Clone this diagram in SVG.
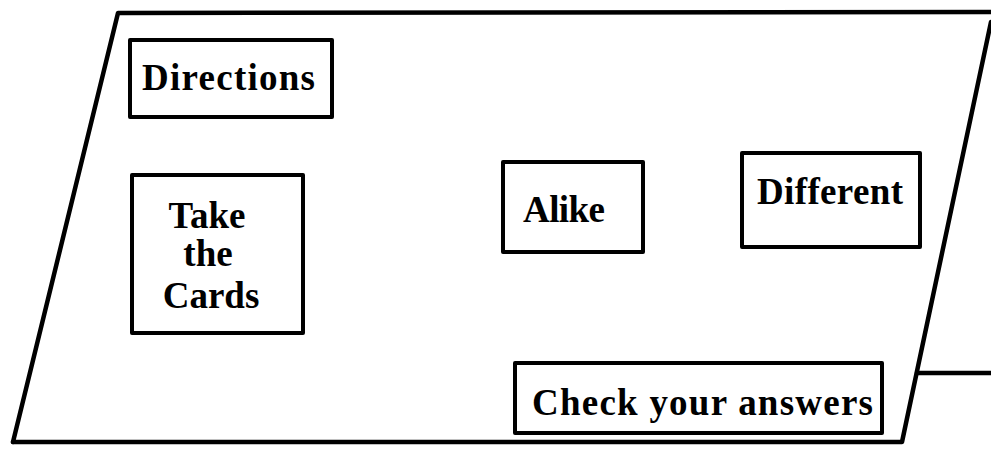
<svg xmlns="http://www.w3.org/2000/svg" width="991" height="449" viewBox="0 0 991 449">
<style>
.frame{fill:none;stroke:#000;stroke-width:4.5;stroke-linejoin:round;stroke-linecap:round}
.box{fill:#fff;stroke:#000;stroke-width:4;stroke-linejoin:round}
.lbl{font-family:"Liberation Serif","Times New Roman",serif;font-weight:bold;font-size:37px;fill:#000}
</style>
<rect x="0" y="0" width="991" height="449" fill="#fff"/>
<g id="connectors">
<path class="frame" d="M13,442 L118,13 L991,12"/>
<path class="frame" d="M991,22 L902,442 L13,442"/>
<path class="frame" d="M917,373 L991,373"/>
</g>
<g id="directions">
<rect class="box" x="130" y="40" width="202" height="77"/>
<text class="lbl" x="142" y="90" textLength="173">Directions</text>
</g>
<g id="take-the-cards">
<rect class="box" x="132" y="175" width="171" height="158"/>
<text class="lbl" x="207" y="228" text-anchor="middle">Take</text>
<text class="lbl" x="208" y="266" text-anchor="middle">the</text>
<text class="lbl" x="211" y="308" text-anchor="middle">Cards</text>
</g>
<g id="alike">
<rect class="box" x="503" y="162" width="140" height="90"/>
<text class="lbl" x="523" y="222" textLength="82">Alike</text>
</g>
<g id="different">
<rect class="box" x="742" y="153" width="178" height="94"/>
<text class="lbl" x="757" y="204" textLength="146">Different</text>
</g>
<g id="check-your-answers">
<rect class="box" x="515" y="363" width="367" height="70"/>
<text class="lbl" x="532" y="415" textLength="341">Check your answers</text>
</g>
</svg>
